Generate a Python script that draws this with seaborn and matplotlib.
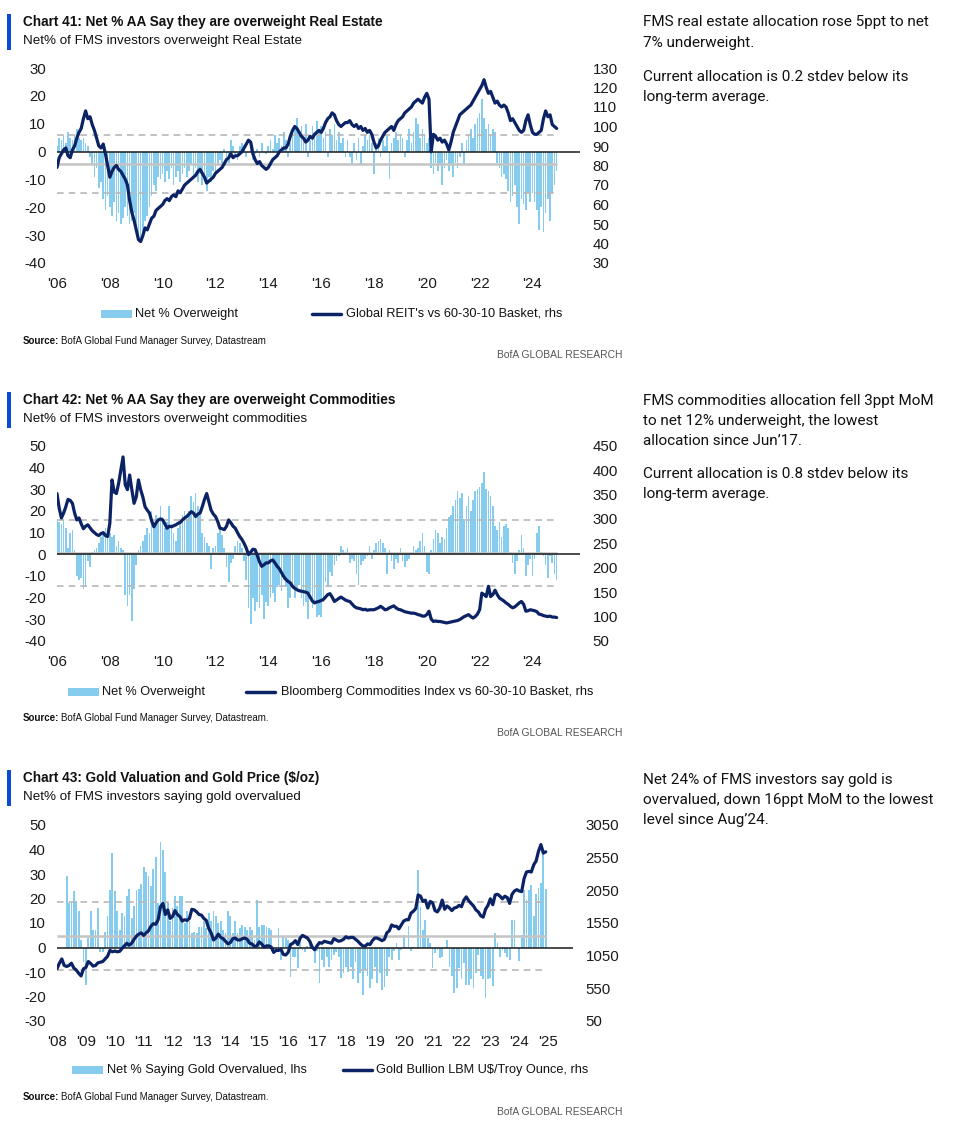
import matplotlib
matplotlib.use('Agg')
import matplotlib.pyplot as plt
from matplotlib.patches import Rectangle
from matplotlib.lines import Line2D
import pandas as pd
import seaborn as sns

sns.set_theme(style='white')
NARROW = ['Liberation Sans', 'DejaVu Sans']
BODY = ['Roboto', 'DejaVu Sans']
plt.rcParams['font.family'] = NARROW
plt.rcParams['axes.unicode_minus'] = False

NAVY = '#0b2265'
SKY = '#86ccee'
ACCENT = '#0a4bd6'

# ---- Chart 41: real estate, monthly Jan 2006 - Dec 2024 ----
re_net = [
    2, 5, 4, 6, 3, 7, 5, 4, 6, 8, 5, 4,            # 2006
    5, 3, 2, -2, -5, -9, -6, -13, -11, -17, -21, -16,
    -20, -23, -18, -25, -22, -26, -24, -20, -23, -26, -25, -22,
    -27, -31, -31, -29, -25, -23, -20, -16, -12, -14, -9, -10,
    -8, -11, -7, -10, -6, -12, -9, -7, -11, -8, -6, -9,   # 2010
    -7, -5, -9, -6, -11, -8, -12, -10, -14, -9, -11, -7,
    -8, -5, -3, -6, 1, -2, -4, 4, 2, -1, -3, 2,
    3, 1, -2, 0, 2, -3, -1, 1, -2, 3, 0, -1,
    2, 4, 1, 6, 3, 5, 2, 7, 4, -2, 3, 6,
    8, 12, 6, 9, 5, 10, -2, 4, 9, 6, 11, 8,        # 2015
    9, 5, 7, -2, 8, 6, 10, 4, 7, 3, 5, -2,
    4, -2, -5, 3, -3, 5, -5, 2, 6, 4, 6, 3,
    -8, 3, 5, -2, 4, 2, 6, -10, 3, 5, 7, 4,
    6, 5, -2, 4, 8, 3, 7, 12, 10, 5, 8, 6,
    3, 5, -6, -8, -4, -7, -5, -12, -6, -3, -7, -5,  # 2020
    -9, -4, -6, -2, 3, -5, 4, 6, 8, 5, 10, 12,
    14, 19, 12, 8, 10, 6, 8, 7, -4, -6, -9, -8,
    -10, -14, -18, -16, -12, -20, -26, -17, -19, -21, -15, -18,
    -15, -18, -21, -28, -20, -29, -22, -17, -25, -15, -12, -7,
]
re_reit = [
    79, 84, 86, 88, 89, 85, 84, 88, 90, 94, 97, 99,
    104, 108, 104, 105, 101, 98, 94, 90, 89, 91, 86, 80,
    74, 77, 79, 80, 78, 77, 75, 73, 70, 62, 56, 52,
    47, 42, 41, 44, 48, 47, 50, 53, 54, 57, 58, 59,
    60, 62, 63, 62, 64, 65, 64, 67, 66, 68, 70, 71,
    72, 73, 74, 75, 77, 78, 76, 74, 71, 72, 73, 74,
    76, 77, 78, 79, 81, 83, 84, 86, 84, 85, 85, 86,
    87, 89, 91, 93, 92, 86, 83, 81, 82, 80, 79, 78,
    79, 81, 83, 84, 85, 87, 88, 89, 89, 91, 95, 98,
    100, 99, 97, 95, 94, 92, 93, 95, 94, 96, 97, 98,
    97, 99, 102, 104, 105, 107, 106, 103, 101, 100, 101, 102,
    102, 103, 101, 100, 101, 99, 100, 98, 99, 97, 98, 96,
    92, 89, 90, 93, 95, 97, 98, 99, 100, 98, 101, 103,
    104, 105, 107, 108, 109, 110, 112, 113, 114, 113, 112, 115,
    117, 114, 87, 96, 95, 93, 94, 92, 93, 91, 88, 92,
    97, 100, 103, 106, 107, 108, 109, 110, 111, 113, 115, 117,
    119, 121, 124, 120, 117, 118, 115, 112, 113, 111, 110, 111,
    110, 107, 103, 104, 102, 100, 98, 97, 98, 103, 106, 101,
    97, 96, 96, 97, 98, 104, 108, 105, 106, 101, 100, 99,
]

# ---- Chart 42: commodities, monthly Jan 2006 - Dec 2024 ----
cmd_net = [
    16, 15, 14, 16, 12, 3, 10, 11, 2, -10, -12, -11,
    -16, -15, -3, -6, 1, 2, 3, 5, 8, 10, 12, 8,
    10, 8, 9, 4, 6, 3, 2, -19, -24, -19, -31, -16,
    -5, 2, 4, 6, 9, 12, 10, 20, 14, 18, 16, 22,
    17, 12, 15, 22, 14, 10, 6, 12, 14, 18, 20, 16,
    20, 27, 24, 28, 22, 18, 10, 8, 5, 4, -7, 3,
    4, 10, 12, 9, 3, -6, -13, -4, -2, 4, 6, 5,
    3, -3, -12, -25, -32, -20, -26, -22, -25, -19, -30, -22,
    -24, -20, -18, -22, -15, -14, -17, -12, -15, -25, -20, -16,
    -20, -16, -14, -20, -24, -22, -30, -18, -25, -22, -29, -28,
    -29, -22, -13, -15, -8, -10, -5, -3, -1, 4, 2, 1,
    3, -4, -2, -3, -9, -14, -5, -3, -2, -1, 4, -2,
    2, 5, 6, 7, 5, 3, -9, 2, -3, -7, -2, -4,
    3, -3, -6, -3, -2, 1, 4, 2, 3, 6, 10, 4,
    -8, -9, 2, 7, 11, 10, 5, 8, 7, 12, 17, 18,
    22, 25, 29, 26, 28, 16, 22, 27, 20, 25, 29, 30,
    31, 33, 38, 30, 29, 27, 22, 13, 11, 15, 8, 13,
    14, 12, 1, -4, -9, -3, 2, 9, 3, -10, -5, -2,
    -10, -2, 10, 13, 1, -1, -5, -11, -1, -4, -9, -12,
]
cmd_bcom = [
    352, 322, 302, 312, 325, 340, 338, 332, 312, 298, 302, 290,
    280, 285, 288, 282, 276, 272, 268, 266, 270, 272, 266, 264,
    291, 380, 355, 352, 373, 400, 427, 370, 360, 390, 360, 332,
    345, 380, 360, 345, 325, 318, 312, 296, 284, 292, 298, 300,
    298, 290, 281, 285, 284, 286, 288, 291, 293, 298, 302, 305,
    310, 315, 312, 305, 310, 312, 325, 340, 352, 335, 318, 310,
    305, 295, 281, 280, 278, 285, 298, 292, 285, 281, 272, 264,
    258, 250, 240, 227, 232, 238, 237, 225, 212, 203, 206, 210,
    210, 214, 216, 210, 203, 198, 190, 182, 176, 172, 169, 162,
    158, 155, 153, 152, 151, 150, 148, 140, 132, 128, 130, 131,
    133, 135, 140, 145, 147, 140, 131, 134, 137, 140, 137, 134,
    132, 131, 126, 121, 118, 117, 116, 114, 115, 113, 114, 114,
    114, 116, 118, 121, 118, 114, 115, 118, 120, 122, 118, 115,
    114, 112, 110, 109, 108, 107, 107, 106, 104, 103, 101, 101,
    104, 111, 95, 90, 91, 90, 90, 89, 88, 87, 88, 89,
    90, 91, 92, 94, 97, 100, 102, 104, 100, 97, 100, 105,
    114, 148, 145, 141, 162, 141, 145, 154, 145, 138, 135, 132,
    128, 125, 121, 118, 120, 124, 128, 131, 125, 111, 112, 114,
    113, 112, 110, 105, 104, 102, 101, 100, 101, 99, 99, 98,
]

# ---- Chart 43: gold, survey from May 2008, price from Jan 2008 ----
gold_net = [
    29, 18, 18, 23, 19, 15, 3, -6,                  # May-Dec 2008
    -15.5, 4, 15, 7, 7, 16, -2, -2, 6.5, 12.7, 23.5, 38.5,
    23, 15, 7, 14, 13, 21, 24, 12, 17, 23.5, 24, 26,
    33, 31, 29, 25, 32, 37, 18, 43, 40, 31, 18, 11,
    16, 21, 17, 21, 21, 10, 15, 11, 6, 6.5, 6, 8.5,
    8.5, 11, 8, 14, 11, 15, 12.7, 10, 11, 7, 6, 15,
    12.7, 6, 11, 6, 8, 9, 8.5, 7, 8.5, 7, 3, 19.5,
    8.5, 9, 9, 8.5, 8, 7, -2, -1, 8, -5, 4.5, 4,
    3, -12, -4, -4, -8.5, 3, -1, -2, 0.5, 2, -0.5, -6.5,
    -1.6, -14.6, -5, -7.8, -4, -7.8, -5, -3, -2, -3.7, -12.5, -10.5,
    -8, -9.8, -8, -13, -5.8, -14.6, -10.5, -19.3, -8.6, -11.8, -16.6, -13,
    -7.8, -14.6, -10.5, -17.3, -16, -11.8, -3.7, -5, -1.6, 1.8, -5, -1,
    5.2, 0.4, 8.6, -1.6, 0.4, -0.3, 31.7, 16.7, 7.2, 11.3, 3.8, 1.8,
    -8.4, -2.3, -1, -4.3, -3.7, 0.4, 3, -7.8, -11.8, -18.6, -16.6, -8.4,
    -13, -6.4, -15.2, -15.2, -13, -16.6, -10.5, -3, -11.8, -13, -20.7, -13,
    -12.5, -15.9, 5.8, 1.8, -3.7, -1, -2.3, -3.7, -5, 11.3, 11.3, -0.3,
    -5.7, 5.2, 23.5, 19.5, 23.5, 25.6, 12.7, 22, 24.2, 26.3, 40, 24,
]
gold_px = [
    850, 935, 1000, 900, 885, 900, 935, 860, 830, 780, 740, 850,
    870, 960, 930, 890, 900, 940, 950, 960, 1000, 1040, 1130, 1110,
    1120, 1110, 1115, 1160, 1200, 1240, 1210, 1240, 1300, 1350, 1380, 1400,
    1360, 1400, 1430, 1500, 1540, 1530, 1600, 1800, 1850, 1680, 1750, 1620,
    1650, 1740, 1680, 1650, 1580, 1600, 1590, 1620, 1760, 1750, 1720, 1680,
    1670, 1620, 1590, 1470, 1400, 1290, 1320, 1380, 1330, 1310, 1270, 1230,
    1250, 1310, 1320, 1290, 1290, 1310, 1320, 1300, 1240, 1230, 1190, 1200,
    1260, 1230, 1180, 1200, 1200, 1180, 1100, 1130, 1130, 1150, 1070, 1060,
    1100, 1220, 1240, 1280, 1220, 1320, 1360, 1340, 1320, 1270, 1180, 1140,
    1200, 1250, 1240, 1270, 1260, 1250, 1240, 1310, 1290, 1270, 1280, 1300,
    1340, 1320, 1330, 1330, 1300, 1270, 1230, 1200, 1195, 1230, 1220, 1280,
    1320, 1320, 1300, 1280, 1300, 1400, 1430, 1520, 1500, 1500, 1460, 1520,
    1580, 1600, 1600, 1700, 1730, 1770, 1980, 1960, 1880, 1900, 1780, 1880,
    1860, 1740, 1720, 1780, 1900, 1760, 1810, 1780, 1740, 1780, 1790, 1820,
    1800, 1900, 1950, 1890, 1850, 1810, 1750, 1720, 1660, 1640, 1760, 1820,
    1920, 1830, 1980, 1990, 1960, 1920, 1960, 1940, 1850, 1990, 2040, 2060,
    2040, 2030, 2230, 2330, 2340, 2330, 2440, 2500, 2650, 2750, 2620, 2640,
]

W, H = 958, 1129


def months(y0, m0, n):
    # decimal-year position of each month
    return [y0 + (m0 - 1 + i) / 12 for i in range(n)]


def fx(px):
    return px / W


def fy(py):
    return 1 - py / H


panels = [
    dict(top=68, bottom=263, left=57, right=580, x0=2006, x1=2025.8,
         bars=re_net, bar_start=(2006, 1), line=re_reit, line_start=(2006, 1),
         ylim=(-40, 30), yticks=range(-40, 31, 10),
         rlim=(30, 130), rticks=range(30, 131, 10),
         xticks=range(2006, 2025, 2), ref=(6.0, -4.5, -15.0),
         title='Chart 41: Net % AA Say they are overweight Real Estate',
         sub='Net% of FMS investors overweight Real Estate', ty=22,
         leg=(101, 135, 312, 346, 314), leg1='Net % Overweight',
         leg2="Global REIT's vs 60-30-10 Basket, rhs",
         src='BofA Global Fund Manager Survey, Datastream', src_y=341, brand_y=355,
         note=[(22, 'FMS real estate allocation rose 5ppt to net'), (43, '7% underweight.'),
               (77, 'Current allocation is 0.2 stdev below its'), (97, 'long-term average.')]),
    dict(top=445.7, bottom=641, left=57, right=580, x0=2006, x1=2025.8,
         bars=cmd_net, bar_start=(2006, 1), line=cmd_bcom, line_start=(2006, 1),
         ylim=(-40, 50), yticks=range(-40, 51, 10),
         rlim=(50, 450), rticks=range(50, 451, 50),
         xticks=range(2006, 2025, 2), ref=(15.8, 0.6, -14.6),
         title='Chart 42: Net % AA Say they are overweight Commodities',
         sub='Net% of FMS investors overweight commodities', ty=400,
         leg=(68, 102, 246, 281, 692), leg1='Net % Overweight',
         leg2='Bloomberg Commodities Index vs 60-30-10 Basket, rhs',
         src='BofA Global Fund Manager Survey, Datastream.', src_y=718, brand_y=733,
         note=[(401, 'FMS commodities allocation fell 3ppt MoM'), (421, 'to net 12% underweight, the lowest'),
               (441, 'allocation since Jun\u201917.'),
               (474, 'Current allocation is 0.8 stdev below its'), (494, 'long-term average.')]),
    dict(top=825, bottom=1021, left=57, right=573, x0=2008, x1=2025.86,
         bars=gold_net, bar_start=(2008, 5), line=gold_px, line_start=(2008, 1),
         ylim=(-30, 50), yticks=range(-30, 51, 10),
         rlim=(50, 3050), rticks=range(50, 3051, 500),
         xticks=range(2008, 2026), ref=(18.7, 4.8, -9.1),
         title='Chart 43: Gold Valuation and Gold Price ($/oz)',
         sub='Net% of FMS investors saying gold overvalued', ty=778,
         leg=(72, 107, 343, 376, 1070), leg1='Net % Saying Gold Overvalued, lhs',
         leg2='Gold Bullion LBM U$/Troy Ounce, rhs',
         src='BofA Global Fund Manager Survey, Datastream.', src_y=1097, brand_y=1112,
         note=[(780, 'Net 24% of FMS investors say gold is'), (800, 'overvalued, down 16ppt MoM to the lowest'),
               (820, 'level since Aug\u201924.')]),
]

fig = plt.figure(figsize=(W / 100, H / 100), dpi=100)
fig.patch.set_facecolor('white')
src_labels = []

for p in panels:
    ax = fig.add_axes([fx(p['left']), fy(p['bottom']),
                       fx(p['right'] - p['left']), (p['bottom'] - p['top']) / H])
    bx = months(*p['bar_start'], len(p['bars']))
    lx = months(*p['line_start'], len(p['line']))
    bar_df = pd.DataFrame({'date': bx, 'net': p['bars']})
    line_df = pd.DataFrame({'date': lx, 'val': p['line']})

    sns.barplot(data=bar_df, x='date', y='net', native_scale=True, width=0.75,
                color=SKY, saturation=1, errorbar=None, linewidth=0, ax=ax, zorder=1)
    end = bx[-1]
    hi, mid, lo = p['ref']
    ax.hlines([hi, lo], p['x0'], end, colors='#b8b8b8', linestyles=(0, (4, 3)), lw=1.2, zorder=3)
    ax.hlines(mid, p['x0'], end, colors='#c4c4c4', lw=1.8, zorder=3)
    ax.axhline(0, color='#1a1a1a', lw=1.1, zorder=4)

    ax.set_xlim(p['x0'], p['x1'])
    ax.set_ylim(*p['ylim'])
    ax.set_yticks(list(p['yticks']))
    ax.set_xticks(list(p['xticks']))
    ax.set_xticklabels(["'%02d" % (t % 100) for t in p['xticks']])
    ax.set_xlabel('')
    ax.set_ylabel('')
    ax.tick_params(axis='both', length=0, labelsize=10.8, colors='#1a1a1a')
    ax.tick_params(axis='y', pad=8)
    ax.tick_params(axis='x', pad=10)
    sns.despine(ax=ax, left=True, bottom=True)

    ax2 = ax.twinx()
    sns.lineplot(data=line_df, x='date', y='val', color=NAVY, linewidth=2.3, ax=ax2, zorder=5)
    ax2.set_ylim(*p['rlim'])
    ax2.set_yticks(list(p['rticks']))
    ax2.set_ylabel('')
    ax2.set_xlim(p['x0'], p['x1'])
    ax2.tick_params(axis='y', length=0, labelsize=10.8, colors='#1a1a1a', pad=9)
    for s in ax2.spines.values():
        s.set_visible(False)
    ax2.grid(False)
    ax.grid(False)

    # header
    fig.add_artist(Rectangle((fx(7), fy(p['ty'] + 28)), fx(4), 36 / H,
                             transform=fig.transFigure, color=ACCENT, lw=0))
    fig.text(fx(23), fy(p['ty']), p['title'], fontsize=9.8, fontweight='bold',
             va='center', ha='left', color='#111111')
    fig.text(fx(23), fy(p['ty'] + 19), p['sub'], fontsize=9.6,
             va='center', ha='left', color='#111111')

    # legend
    bx0, tx1, lx0, tx2, ly = p['leg']
    fig.add_artist(Rectangle((fx(bx0), fy(ly + 4)), fx(31), 8 / H,
                             transform=fig.transFigure, color=SKY, lw=0))
    fig.text(fx(tx1), fy(ly), p['leg1'], fontsize=9.2, va='center', ha='left', color='#111111')
    fig.add_artist(Line2D([fx(lx0), fx(lx0 + 29)], [fy(ly), fy(ly)],
                          transform=fig.transFigure, color=NAVY, lw=2.5))
    fig.text(fx(tx2), fy(ly), p['leg2'], fontsize=9.2, va='center', ha='left', color='#111111')

    # source + brand
    head = fig.text(fx(23), fy(p['src_y']), 'Source:', fontsize=7, fontweight='bold',
                    va='center', ha='left', color='#111111')
    src_labels.append((head, p))
    fig.text(fx(622), fy(p['brand_y']), 'BofA GLOBAL RESEARCH', fontsize=7.4,
             va='center', ha='right', color='#555555')

    # commentary on the right
    for yy, line in p['note']:
        fig.text(fx(643), fy(yy), line, fontsize=11, family=BODY,
                 va='center', ha='left', color='#111111')

# put the source text right after the bold "Source:"
fig.canvas.draw()
rend = fig.canvas.get_renderer()
for head, p in src_labels:
    bb = head.get_window_extent(renderer=rend)
    fig.text(fx(bb.x1 + 2), fy(p['src_y']), p['src'], fontsize=7,
             va='center', ha='left', color='#111111')

fig.savefig('out.png', dpi=100, facecolor='white')
